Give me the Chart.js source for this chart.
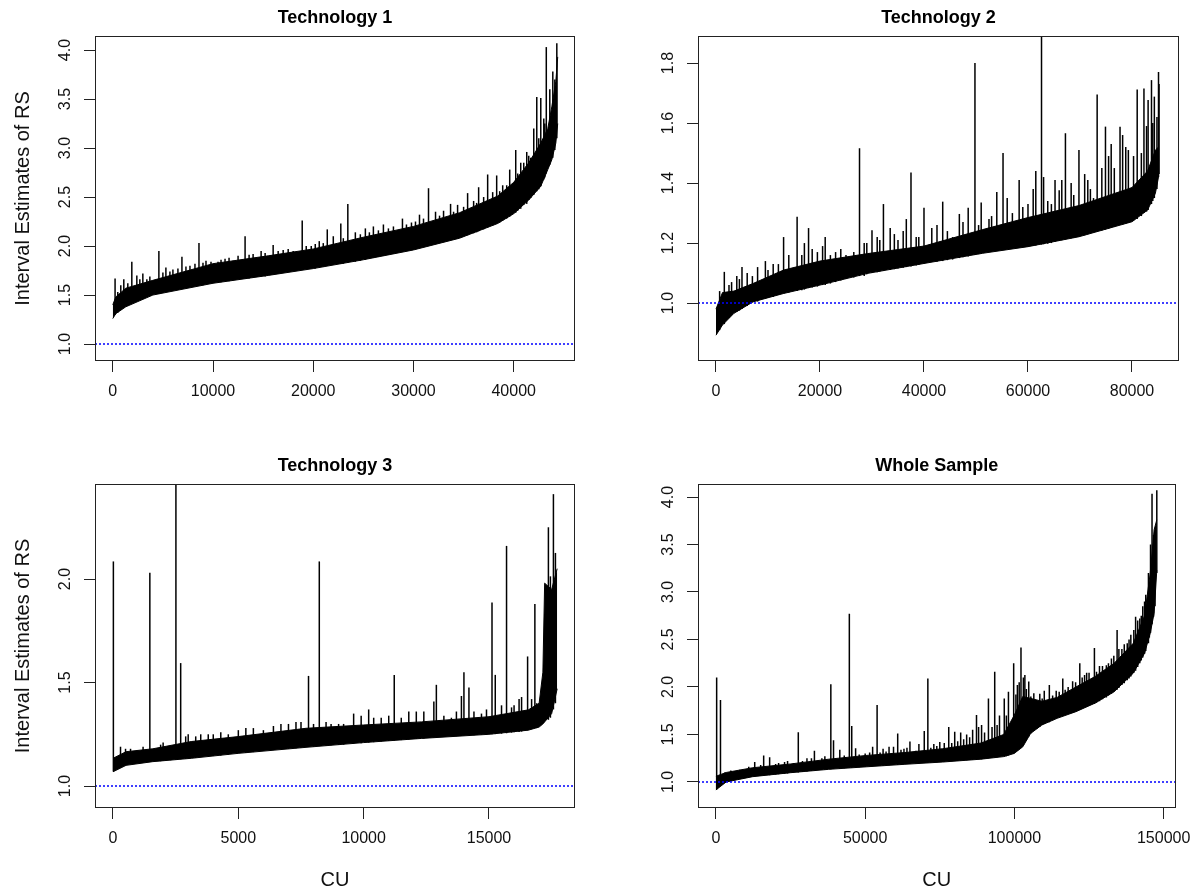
<!DOCTYPE html>
<html>
<head>
<meta charset="utf-8">
<title>Interval Estimates of RS</title>
<script src="https://cdn.jsdelivr.net/npm/chart.js@4.4.1/dist/chart.umd.min.js"></script>
<style>
  html, body { margin: 0; padding: 0; background: #fff; }
  #wrap { position: relative; width: 1201px; height: 895px; }
  .panel { position: absolute; }
</style>
</head>
<body>
<div id="wrap">
  <div class="panel" style="left:0;top:0"><canvas id="tech1" width="600" height="420"></canvas></div>
  <div class="panel" style="left:600px;top:0"><canvas id="tech2" width="601" height="420"></canvas></div>
  <div class="panel" style="left:0;top:420px"><canvas id="tech3" width="600" height="475"></canvas></div>
  <div class="panel" style="left:600px;top:420px"><canvas id="whole" width="601" height="475"></canvas></div>
</div>
<script>
// ---- Technology 1 ----
const t1X  = [1, 300, 1300, 4000, 10000, 15500, 20000, 25000, 30000, 34600, 38400, 40000, 41500, 42700, 43400, 43800, 44200, 44390];
const t1Lo = [1.26, 1.31, 1.38, 1.50, 1.62, 1.70, 1.77, 1.86, 1.96, 2.08, 2.23, 2.33, 2.47, 2.61, 2.78, 2.88, 3.05, 3.25];
const t1Up = [1.40, 1.48, 1.57, 1.65, 1.82, 1.90, 1.97, 2.09, 2.20, 2.34, 2.51, 2.65, 2.85, 3.05, 3.20, 3.42, 3.68, 3.93];
// intervals sticking out of the band: [CU, lower, upper]
const t1Spikes = [
  [230,1.30,1.67],[500,1.32,1.53],[800,1.35,1.60],[1100,1.37,1.66],[1500,1.39,1.62],[1900,1.42,1.84],
  [2400,1.45,1.70],[2700,1.46,1.66],[3000,1.47,1.72],[3400,1.48,1.66],[3700,1.49,1.69],[4600,1.51,1.95],
  [5000,1.52,1.73],[5300,1.53,1.78],[5700,1.54,1.74],[6000,1.55,1.76],[6500,1.56,1.77],[6900,1.57,1.89],
  [7300,1.57,1.79],[7700,1.58,1.80],[8200,1.59,1.82],[8600,1.60,2.03],[9000,1.60,1.83],[9300,1.61,1.85],
  [9800,1.62,1.84],[10500,1.63,1.84],[10800,1.63,1.86],[11200,1.64,1.87],[11600,1.64,1.88],[12000,1.65,1.85],
  [12500,1.66,1.90],[13200,1.67,2.10],[13600,1.67,1.91],[14000,1.68,1.92],[14800,1.69,1.95],[15200,1.69,1.93],
  [16000,1.71,2.01],[16500,1.72,1.95],[17000,1.73,1.96],[17500,1.74,1.97],[18000,1.75,1.95],[18900,1.76,2.26],
  [19300,1.76,2.00],[19800,1.77,2.00],[20200,1.77,2.02],[20600,1.78,2.05],[21000,1.79,2.03],[21400,1.80,2.17],
  [22000,1.81,2.10],[22750,1.82,2.23],[23000,1.82,2.08],[23450,1.83,2.43],[24200,1.84,2.14],[24700,1.85,2.12],
  [25200,1.86,2.18],[25600,1.87,2.14],[26000,1.88,2.20],[26500,1.89,2.16],[27000,1.90,2.22],[27500,1.91,2.18],
  [28000,1.92,2.20],[28900,1.94,2.28],[29300,1.95,2.22],[29800,1.96,2.24],[30200,1.97,2.25],[30600,1.98,2.32],
  [31000,1.99,2.28],[31500,2.00,2.59],[32200,2.02,2.35],[32600,2.03,2.31],[33000,2.04,2.36],[33700,2.06,2.43],
  [34000,2.07,2.35],[34400,2.08,2.42],[35000,2.10,2.40],[35400,2.11,2.54],[36000,2.13,2.46],[36300,2.14,2.44],
  [36500,2.15,2.60],[37000,2.17,2.50],[37400,2.19,2.73],[37900,2.21,2.55],[38300,2.23,2.72],[38600,2.24,2.56],
  [38900,2.26,2.62],[39300,2.28,2.62],[39600,2.30,2.78],[40200,2.34,2.98],[40400,2.36,2.74],[40700,2.38,2.85],
  [41000,2.42,2.85],[41300,2.43,2.96],[41500,2.47,2.92],[41700,2.49,2.90],[42000,2.52,3.20],[42300,2.56,3.52],
  [42500,2.58,3.10],[42700,2.61,3.51],[43000,2.68,3.30],[43100,2.70,3.25],[43250,2.74,4.03],[43600,2.83,3.60],
  [43900,2.90,3.78],[44100,2.98,3.70],[44300,3.10,4.07]
];
const t1XTicks = [0, 10000, 20000, 30000, 40000];
const t1YTicks = [1.0, 1.5, 2.0, 2.5, 3.0, 3.5, 4.0];

// ---- Technology 2 ----
const t2X  = [1, 1250, 3460, 7100, 13000, 20000, 29200, 40000, 51300, 60000, 69800, 80000, 83000, 84500, 85100];
const t2Lo = [0.893, 0.927, 0.966, 1.004, 1.032, 1.060, 1.099, 1.132, 1.166, 1.188, 1.221, 1.271, 1.310, 1.366, 1.420];
const t2Up = [0.980, 1.035, 1.040, 1.065, 1.110, 1.140, 1.165, 1.190, 1.245, 1.285, 1.325, 1.385, 1.440, 1.510, 1.520];
const t2Spikes = [
  [700,0.91,1.04],[1600,0.93,1.104],[2500,0.95,1.06],[3000,0.96,1.07],[4000,0.97,1.09],[4500,0.975,1.08],
  [5000,0.98,1.12],[6000,0.99,1.10],[7000,1.003,1.09],[8000,1.005,1.12],[9500,1.015,1.14],[10000,1.017,1.11],
  [11000,1.02,1.13],[12000,1.027,1.13],[13000,1.032,1.22],[14000,1.035,1.16],[15600,1.04,1.288],[16500,1.043,1.16],
  [17000,1.045,1.20],[17800,1.05,1.25],[18500,1.052,1.18],[19500,1.055,1.17],[20500,1.06,1.19],[21000,1.06,1.22],
  [22000,1.065,1.16],[23000,1.07,1.17],[24000,1.075,1.18],[25000,1.08,1.16],[26500,1.085,1.17],[27600,1.09,1.516],
  [28500,1.09,1.20],[29000,1.096,1.20],[30000,1.10,1.243],[31000,1.103,1.22],[31500,1.105,1.21],[32200,1.107,1.33],
  [33500,1.11,1.25],[34300,1.113,1.23],[35000,1.115,1.21],[36000,1.118,1.24],[36600,1.12,1.28],[37500,1.122,1.435],
  [38500,1.125,1.22],[39000,1.128,1.22],[40000,1.132,1.318],[41500,1.137,1.25],[42500,1.138,1.26],[43600,1.14,1.338],
  [44500,1.143,1.24],[45500,1.145,1.22],[46800,1.15,1.297],[47500,1.153,1.27],[48500,1.155,1.318],[49800,1.16,1.80],
  [50500,1.163,1.26],[51000,1.165,1.335],[52500,1.17,1.28],[53000,1.172,1.29],[54000,1.175,1.37],[55200,1.178,1.50],
  [56000,1.18,1.35],[57000,1.182,1.30],[58300,1.185,1.41],[59000,1.186,1.32],[60000,1.188,1.33],[61000,1.19,1.38],
  [61500,1.192,1.44],[62600,1.195,1.95],[63000,1.196,1.42],[63800,1.198,1.34],[64500,1.20,1.33],[65200,1.204,1.41],
  [66000,1.207,1.376],[66500,1.209,1.41],[67200,1.212,1.566],[68300,1.216,1.40],[68800,1.218,1.36],[69800,1.221,1.51],
  [70900,1.226,1.43],[71500,1.229,1.41],[72000,1.232,1.38],[72600,1.235,1.35],[73300,1.238,1.695],[74200,1.242,1.45],
  [74900,1.245,1.588],[75500,1.248,1.49],[76000,1.25,1.53],[76600,1.254,1.45],[77700,1.26,1.588],[78200,1.262,1.56],
  [78800,1.265,1.52],[79300,1.268,1.51],[80300,1.275,1.49],[81000,1.28,1.712],[81800,1.29,1.50],[82300,1.30,1.715],
  [82800,1.305,1.59],[83100,1.31,1.677],[83750,1.33,1.743],[84000,1.34,1.60],[84300,1.35,1.688],[84800,1.38,1.62],
  [85100,1.42,1.77],[85200,1.43,1.73]
];
const t2XTicks = [0, 20000, 40000, 60000, 80000];
const t2YTicks = [1.0, 1.2, 1.4, 1.6, 1.8];

// ---- Technology 3 ----
const t3X  = [1, 520, 1590, 3120, 5000, 7700, 10000, 12300, 15000, 16570, 17000, 17150, 17220, 17500, 17720];
const t3Lo = [1.069, 1.100, 1.118, 1.134, 1.158, 1.187, 1.210, 1.230, 1.250, 1.270, 1.285, 1.300, 1.310, 1.350, 1.470];
const t3Up = [1.134, 1.166, 1.180, 1.215, 1.239, 1.279, 1.295, 1.310, 1.335, 1.368, 1.400, 1.550, 1.980, 1.950, 2.050];
const t3Spikes = [
  [15,1.07,2.085],[300,1.09,1.19],[500,1.10,1.18],[700,1.105,1.18],[1000,1.11,1.17],[1200,1.115,1.19],
  [1470,1.118,2.03],[1900,1.12,1.20],[2000,1.122,1.21],[2300,1.125,1.19],[2510,1.127,2.60],[2700,1.13,1.594],
  [2900,1.132,1.24],[3000,1.133,1.25],[3300,1.136,1.24],[3500,1.14,1.25],[3800,1.143,1.25],[4000,1.145,1.25],
  [4300,1.148,1.26],[4600,1.152,1.25],[5000,1.158,1.27],[5300,1.16,1.28],[5600,1.164,1.28],[6000,1.17,1.27],
  [6400,1.174,1.29],[6700,1.178,1.30],[7000,1.18,1.30],[7300,1.183,1.31],[7500,1.185,1.31],[7800,1.19,1.532],
  [8000,1.19,1.30],[8230,1.193,2.085],[8500,1.195,1.31],[8700,1.197,1.30],[9000,1.199,1.30],[9200,1.20,1.30],
  [9600,1.205,1.35],[9900,1.207,1.34],[10200,1.21,1.37],[10400,1.212,1.33],[10700,1.215,1.33],[11000,1.218,1.34],
  [11220,1.22,1.537],[11500,1.222,1.33],[11800,1.225,1.36],[12100,1.228,1.36],[12400,1.23,1.36],[12800,1.235,1.408],
  [12900,1.235,1.489],[13200,1.237,1.34],[13500,1.24,1.33],[13700,1.241,1.36],[13900,1.243,1.435],[14000,1.244,1.55],
  [14200,1.245,1.476],[14400,1.246,1.36],[14700,1.248,1.35],[14900,1.249,1.37],[15120,1.25,1.887],[15250,1.251,1.537],
  [15500,1.253,1.39],[15700,1.255,2.16],[15900,1.258,1.38],[16000,1.26,1.39],[16200,1.261,1.42],[16300,1.263,1.43],
  [16540,1.27,1.626],[16700,1.275,1.42],[16830,1.28,1.879],[16900,1.28,1.40],[17370,1.32,2.25],[17450,1.33,2.013],
  [17570,1.37,2.41],[17650,1.40,2.126]
];
const t3XTicks = [0, 5000, 10000, 15000];
const t3YTicks = [1.0, 1.5, 2.0];

// ---- Whole Sample ----
const wsX  = [1, 3440, 12360, 25100, 37800, 50600, 63300, 76000, 88800, 96400, 99900, 102800, 105400, 109200, 114300, 120600, 127000, 133400, 139800, 143600, 145500, 146800, 147700];
const wsLo = [0.916, 1.000, 1.056, 1.098, 1.133, 1.160, 1.186, 1.210, 1.240, 1.267, 1.300, 1.370, 1.510, 1.600, 1.670, 1.740, 1.830, 1.950, 2.145, 2.356, 2.566, 2.777, 3.230];
const wsUp = [1.060, 1.100, 1.150, 1.190, 1.240, 1.280, 1.310, 1.350, 1.410, 1.500, 1.700, 1.900, 1.880, 1.850, 1.890, 2.000, 2.110, 2.250, 2.460, 2.750, 3.200, 3.655, 3.760];
const wsSpikes = [
  [250,0.92,2.10],[1530,0.96,1.864],[3000,0.99,1.10],[5000,1.01,1.12],[6000,1.02,1.11],[8000,1.035,1.13],
  [9000,1.04,1.13],[11000,1.05,1.16],[13000,1.058,1.21],[15000,1.062,1.18],[16000,1.065,1.28],[18000,1.07,1.26],
  [20000,1.078,1.19],[21000,1.08,1.20],[23000,1.087,1.21],[24000,1.09,1.22],[26000,1.10,1.20],[27600,1.10,1.523],
  [29000,1.105,1.22],[30500,1.11,1.25],[32000,1.115,1.25],[33000,1.12,1.33],[35500,1.125,1.25],[36500,1.128,1.27],
  [38500,1.135,2.03],[39400,1.137,1.44],[41500,1.14,1.34],[43000,1.145,1.28],[44700,1.15,2.77],[45500,1.15,1.59],
  [46800,1.153,1.355],[48000,1.155,1.29],[50000,1.16,1.30],[51500,1.162,1.31],[52500,1.165,1.37],[54000,1.168,1.81],
  [55000,1.17,1.31],[56000,1.172,1.35],[57000,1.174,1.32],[58000,1.176,1.37],[59500,1.178,1.37],[60900,1.18,1.51],
  [62000,1.184,1.34],[63000,1.186,1.35],[64000,1.188,1.36],[65000,1.19,1.425],[67000,1.195,1.33],[68000,1.197,1.40],
  [69800,1.20,1.537],[71000,1.203,2.089],[72000,1.205,1.36],[73000,1.207,1.40],[74000,1.208,1.38],[75000,1.21,1.42],
  [76500,1.212,1.41],[78000,1.215,1.58],[79000,1.217,1.41],[80000,1.22,1.53],[81000,1.222,1.43],[82000,1.225,1.52],
  [83000,1.227,1.45],[84000,1.23,1.50],[85000,1.232,1.47],[86000,1.235,1.55],[87300,1.238,1.706],[88000,1.238,1.58],
  [89000,1.24,1.60],[90000,1.245,1.52],[91300,1.25,1.88],[92500,1.255,1.58],[93400,1.258,2.16],[94200,1.26,1.60],
  [95000,1.262,1.70],[96600,1.268,1.88],[97300,1.272,1.70],[98000,1.28,1.95],[99750,1.30,2.25],[100500,1.32,1.92],
  [101000,1.33,2.02],[101600,1.345,2.05],[102200,1.36,2.415],[103000,1.39,2.10],[103500,1.42,2.127],[104000,1.44,1.98],
  [104800,1.48,2.057],[105500,1.51,1.90],[106500,1.54,1.934],[107500,1.56,1.82],[108500,1.58,1.93],[109300,1.60,1.88],
  [110000,1.61,1.96],[111700,1.63,2.02],[112800,1.65,1.91],[114000,1.67,1.96],[115000,1.68,1.95],[116200,1.70,2.09],
  [117000,1.71,1.97],[118000,1.72,2.00],[119500,1.73,2.06],[120500,1.745,2.05],[121900,1.76,2.25],[122700,1.775,2.10],
  [123500,1.79,2.127],[124200,1.795,2.15],[125000,1.80,2.15],[126800,1.82,2.41],[127500,1.835,2.16],[128500,1.85,2.22],
  [129500,1.87,2.22],[130800,1.89,2.23],[131500,1.91,2.25],[132500,1.93,2.30],[133300,1.95,2.33],[134400,1.97,2.60],
  [135000,1.99,2.40],[136000,2.02,2.40],[136800,2.04,2.45],[137800,2.07,2.46],[138400,2.09,2.50],[139000,2.11,2.55],
  [140000,2.15,2.60],[140600,2.17,2.74],[141300,2.21,2.70],[142000,2.25,2.72],[142500,2.28,2.75],[143000,2.31,2.85],
  [143600,2.35,2.90],[144000,2.38,2.97],[144900,2.46,3.20],[145200,2.52,3.00],[145600,2.57,3.50],[146100,2.66,4.035],
  [146600,2.74,3.60],[147100,2.85,3.51],[147700,3.20,4.07]
];
const wsXTicks = [0, 50000, 100000, 150000];
const wsYTicks = [1.0, 1.5, 2.0, 2.5, 3.0, 3.5, 4.0];

const refLevel = [1.0];

Chart.defaults.font.family = '"Liberation Sans", Arial, sans-serif';
Chart.defaults.color = '#111';

// frame around the plotting region, like R's box()
const boxPlugin = {
  id: 'box',
  afterDatasetsDraw(chart) {
    const a = chart.chartArea;
    const c = chart.ctx;
    c.save();
    c.strokeStyle = '#222';
    c.lineWidth = 1;
    c.strokeRect(Math.round(a.left) + 0.5, Math.round(a.top) + 0.5,
                 Math.round(a.right - a.left) - 1, Math.round(a.bottom - a.top) - 1);
    c.restore();
  }
};

function makePanel(id, p) {
  const tickGrid = { drawOnChartArea: false, drawTicks: true, offset: false, tickLength: 11, color: '#222', lineWidth: 1 };
  return new Chart(document.getElementById(id), {
    type: 'bar',
    plugins: [boxPlugin],
    data: {
      datasets: [
        {
          type: 'line',
          data: [{ x: p.xMin, y: refLevel[0] }, { x: p.xMax, y: refLevel[0] }],
          borderColor: '#0000ff', borderWidth: 1.5, borderDash: [2, 2],
          pointRadius: 0, fill: false, order: 0
        },
        {
          type: 'bar',
          data: p.spikes.map(s => ({ x: s[0], y: [s[1], s[2]] })),
          backgroundColor: '#000', borderWidth: 0, barThickness: 1.5, inflateAmount: 0,
          grouped: false, order: 1
        },
        {
          type: 'line',
          data: p.xs.map((x, i) => ({ x: x, y: p.lo[i] })),
          borderColor: '#000', borderWidth: 1, pointRadius: 0, fill: false, order: 2
        },
        {
          type: 'line',
          data: p.xs.map((x, i) => ({ x: x, y: p.up[i] })),
          borderColor: '#000', borderWidth: 1, pointRadius: 0,
          fill: '-1', backgroundColor: '#000', order: 3
        }
      ]
    },
    options: {
      responsive: false,
      animation: false,
      events: [],
      layout: { padding: { left: 0, top: 0, bottom: 0, right: p.padRight } },
      plugins: {
        legend: { display: false },
        tooltip: { enabled: false },
        title: {
          display: true, text: p.title, fullSize: false, color: '#000',
          font: { size: 18, weight: 'bold' },
          padding: { top: p.titleTop, bottom: p.titleBottom }
        }
      },
      scales: {
        x: {
          type: 'linear', min: p.xMin, max: p.xMax, offset: false,
          afterBuildTicks: s => { s.ticks = p.xTicks.map(v => ({ value: v })); },
          afterFit: s => { s.height = p.xAxisH; },
          grid: tickGrid,
          border: { display: false },
          ticks: { font: { size: 16 }, padding: 10, maxRotation: 0, autoSkip: false, callback: v => String(v) },
          title: { display: p.xTitle, text: 'CU', font: { size: 20 }, padding: { top: 0, bottom: 3 } }
        },
        y: {
          type: 'linear', min: p.yMin, max: p.yMax,
          afterBuildTicks: s => { s.ticks = p.yTicks.map(v => ({ value: v })); },
          afterFit: s => { s.width = p.yAxisW; },
          grid: tickGrid,
          border: { display: false },
          ticks: {
            font: { size: 16 }, padding: 7, minRotation: 90, maxRotation: 90,
            crossAlign: 'center', autoSkip: false, callback: v => v.toFixed(1)
          },
          title: { display: p.yTitle, text: 'Interval Estimates of RS', font: { size: 20 }, padding: { top: 11, bottom: 0 } }
        }
      }
    }
  });
}

makePanel('tech1', {
  title: 'Technology 1', xs: t1X, lo: t1Lo, up: t1Up, spikes: t1Spikes,
  xTicks: t1XTicks, yTicks: t1YTicks,
  xMin: -1773, xMax: 46114, yMin: 0.827, yMax: 4.143,
  yAxisW: 95, padRight: 25, xAxisH: 59, titleTop: 7.2, titleBottom: 7.2,
  yTitle: true, xTitle: false
});
makePanel('tech2', {
  title: 'Technology 2', xs: t2X, lo: t2Lo, up: t2Up, spikes: t2Spikes,
  xTicks: t2XTicks, yTicks: t2YTicks,
  xMin: -3460, xMax: 89040, yMin: 0.807, yMax: 1.89,
  yAxisW: 98, padRight: 22, xAxisH: 59, titleTop: 7.2, titleBottom: 7.2,
  yTitle: false, xTitle: false
});
makePanel('tech3', {
  title: 'Technology 3', xs: t3X, lo: t3Lo, up: t3Up, spikes: t3Spikes,
  xTicks: t3XTicks, yTicks: t3YTicks,
  xMin: -718, xMax: 18431, yMin: 0.894, yMax: 2.459,
  yAxisW: 95, padRight: 25, xAxisH: 87, titleTop: 35.2, titleBottom: 7.2,
  yTitle: true, xTitle: true
});
makePanel('whole', {
  title: 'Whole Sample', xs: wsX, lo: wsLo, up: wsUp, spikes: wsSpikes,
  xTicks: wsXTicks, yTicks: wsYTicks,
  xMin: -6000, xMax: 154000, yMin: 0.726, yMax: 4.137,
  yAxisW: 98, padRight: 23, xAxisH: 87, titleTop: 35.2, titleBottom: 7.2,
  yTitle: false, xTitle: true
});
</script>
</body>
</html>
